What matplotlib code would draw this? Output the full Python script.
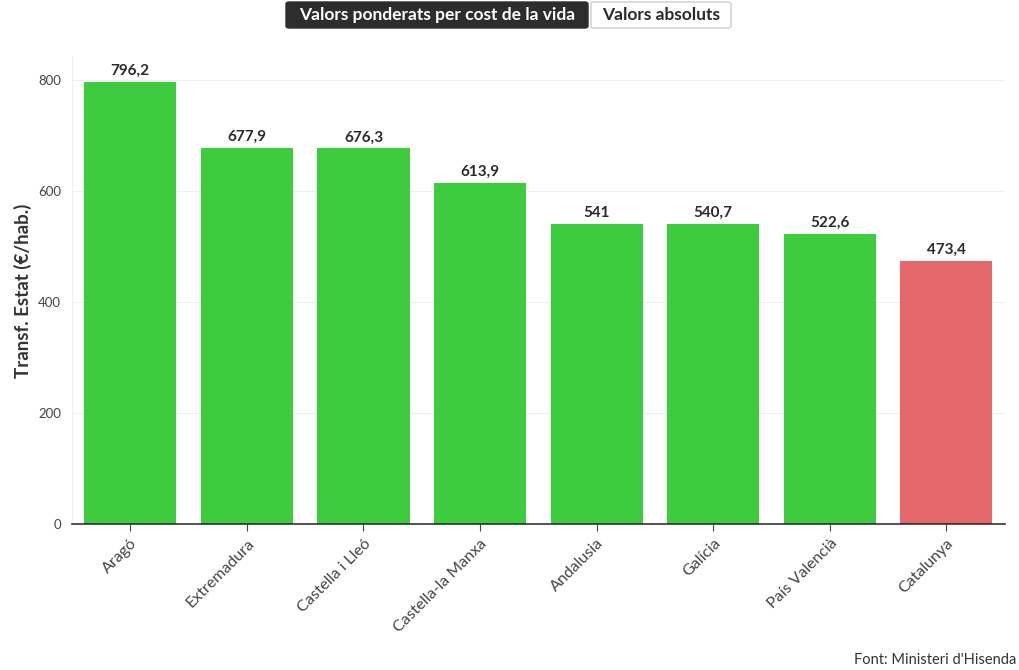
import matplotlib
matplotlib.use('Agg')
import matplotlib.pyplot as plt
from matplotlib.patches import FancyBboxPatch

plt.rcParams['font.family'] = ['Lato', 'DejaVu Sans']

# data
regions = ['Aragó', 'Extremadura', 'Castella i Lleó', 'Castella-la Manxa',
           'Andalusia', 'Galícia', 'País Valencià', 'Catalunya']
values = [796.2, 677.9, 676.3, 613.9, 541, 540.7, 522.6, 473.4]
labels = ['796,2', '677,9', '676,3', '613,9', '541', '540,7', '522,6', '473,4']
highlight = 'Catalunya'

GREEN = '#3dcc3d'
RED = '#e5686a'
colors = [RED if r == highlight else GREEN for r in regions]

fig = plt.figure(figsize=(10.2, 6.7), dpi=100)
ax = fig.add_axes([0.0706, 0.218, 0.9144, 0.697])

x = range(len(regions))
ax.bar(x, values, width=0.79, color=colors, zorder=2)

for xi, v, lab in zip(x, values, labels):
    ax.text(xi, v + 7, lab, ha='center', va='bottom', fontsize=11,
            fontweight='bold', color='#2a2a2a')

ax.set_xlim(-0.5, 7.5)
ax.set_ylim(0, 841)
ax.set_yticks([0, 200, 400, 600, 800])
ax.tick_params(axis='y', length=0, labelsize=9.5, colors='#444444', pad=8)
ax.grid(axis='y', color='#eeeeee', linewidth=0.8, zorder=0)

ax.set_xticks(list(x))
ax.set_xticklabels(regions, rotation=45, ha='right', rotation_mode='anchor',
                   fontsize=11.5, color='#444444')
ax.tick_params(axis='x', length=5, color='#444444', pad=4)

for s in ['top', 'right']:
    ax.spines[s].set_visible(False)
ax.spines['left'].set_color('#eeeeee')
ax.spines['bottom'].set_color('#222222')
ax.spines['bottom'].set_linewidth(1.1)

ax.set_ylabel('Transf. Estat (€/hab.)', fontsize=13.5, fontweight='bold',
              color='#333333', labelpad=4)

# toggle buttons on top
b1 = FancyBboxPatch((286 / 1020, 1 - 28 / 670), 302 / 1020, 26 / 670,
                    boxstyle='round,pad=0,rounding_size=0.003',
                    transform=fig.transFigure, facecolor='#2d2d2d',
                    edgecolor='#2d2d2d')
b2 = FancyBboxPatch((591 / 1020, 1 - 28 / 670), 140 / 1020, 26 / 670,
                    boxstyle='round,pad=0,rounding_size=0.003',
                    transform=fig.transFigure, facecolor='white',
                    edgecolor='#cccccc')
fig.patches.extend([b1, b2])
fig.text(437 / 1020, 1 - 15 / 670, 'Valors ponderats per cost de la vida',
         ha='center', va='center', fontsize=12.5, fontweight='bold', color='white')
fig.text(661 / 1020, 1 - 15 / 670, 'Valors absoluts', ha='center', va='center',
         fontsize=12.5, fontweight='bold', color='#2a2a2a')

fig.text(1016 / 1020, 1 - 660 / 670, "Font: Ministeri d'Hisenda", ha='right',
         va='center', fontsize=10.5, color='#333333')

fig.savefig('out.png', dpi=100)
